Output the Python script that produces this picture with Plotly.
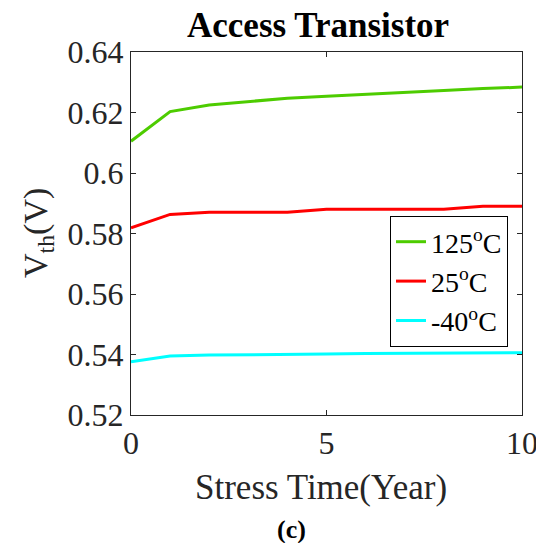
import plotly.graph_objects as go

years = [0, 1, 2, 3, 4, 5, 6, 7, 8, 9, 10]
vth_125 = [0.6105, 0.6203, 0.6225, 0.6237, 0.6247, 0.6254, 0.6261, 0.6267, 0.6273, 0.6279, 0.6284]
vth_25 = [0.5819, 0.5863, 0.5870, 0.5870, 0.5870, 0.5880, 0.5880, 0.5880, 0.5880, 0.5890, 0.5890]
vth_m40 = [0.5376, 0.5395, 0.5398, 0.5400, 0.5401, 0.5402, 0.5403, 0.5404, 0.5404, 0.5405, 0.5406]
series_names = ["125<sup>o</sup>C", "25<sup>o</sup>C", "-40<sup>o</sup>C"]
colors = ["#4DCC00", "#FF0000", "#00FFFF"]
y_ticks = [0.52, 0.54, 0.56, 0.58, 0.60, 0.62, 0.64]
y_tick_labels = ["0.52", "0.54", "0.56", "0.58", "0.6", "0.62", "0.64"]
x_ticks = [0, 5, 10]

FONT = "Liberation Serif"
AX = "#262626"

fig = go.Figure()
for name, vals, c in zip(series_names, [vth_125, vth_25, vth_m40], colors):
    fig.add_trace(go.Scatter(x=years, y=vals, mode="lines", name=name,
                             line=dict(color=c, width=3)))

W, H = 536, 543
L, R, T, B = 131, 14, 52, 128
pw = W - L - R
ph = H - T - B

def px(x):
    return (x - L) / pw

def py(y):
    return (H - B - y) / ph

fig.update_layout(
    width=W, height=H,
    margin=dict(l=L, r=R, t=T, b=B, autoexpand=False),
    paper_bgcolor="white", plot_bgcolor="white",
    font=dict(family=FONT, color="black"),
    showlegend=True,
    legend=dict(x=px(508), xanchor="right", y=py(216), yanchor="top",
                bordercolor="black", borderwidth=1, bgcolor="white",
                font=dict(family=FONT, size=28, color="black"),
                tracegroupgap=0, itemwidth=30),
    xaxis=dict(range=[0, 10], tickvals=x_ticks, ticks="inside", ticklen=5,
               showline=True, mirror="ticks", linecolor=AX, linewidth=1,
               tickcolor=AX, showgrid=False, zeroline=False,
               automargin=False, ticklabeloverflow="allow",
               tickfont=dict(family=FONT, size=32, color=AX)),
    yaxis=dict(range=[0.52, 0.64], tickvals=y_ticks, ticktext=y_tick_labels,
               ticks="inside", ticklen=5, automargin=False,
               showline=True, mirror="ticks", linecolor=AX, linewidth=1,
               tickcolor=AX, showgrid=False, zeroline=False,
               tickfont=dict(family=FONT, size=32, color=AX)),
    annotations=[
        dict(text="<b>Access Transistor</b>", xref="paper", yref="paper",
             x=px(318), y=py(25), xanchor="center", yanchor="middle",
             showarrow=False, font=dict(family=FONT, size=35, color="black")),
        dict(text="Stress Time(Year)", xref="paper", yref="paper",
             x=px(321), y=py(487), xanchor="center", yanchor="middle",
             showarrow=False, font=dict(family=FONT, size=35, color=AX)),
        dict(text="V<sub>th</sub>(V)", xref="paper", yref="paper",
             x=px(38), y=py(233), xanchor="center", yanchor="middle",
             textangle=-90, showarrow=False,
             font=dict(family=FONT, size=34, color=AX)),
        dict(text="<b>(c)</b>", xref="paper", yref="paper",
             x=px(291), y=py(529), xanchor="center", yanchor="middle",
             showarrow=False, font=dict(family=FONT, size=26, color="black")),
    ],
)

fig.write_html("out.html")
